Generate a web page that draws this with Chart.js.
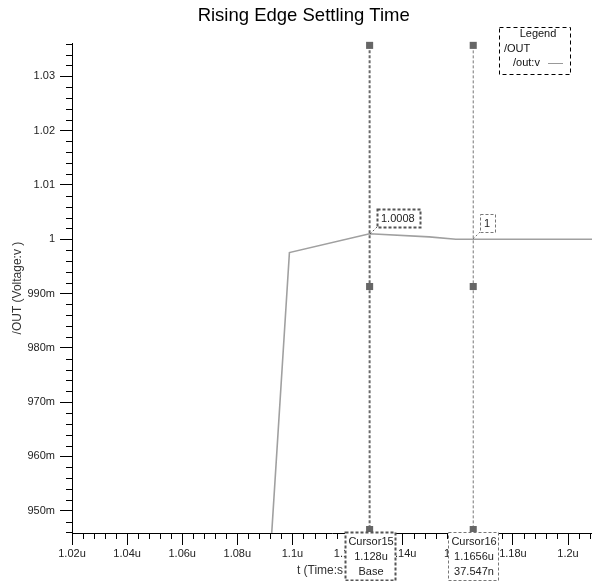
<!DOCTYPE html>
<html lang="en">
<head>
<meta charset="UTF-8">
<title>Rising Edge Settling Time</title>
<script src="https://cdn.jsdelivr.net/npm/chart.js@4.4.0/dist/chart.umd.min.js"></script>
<style>
  html, body { margin: 0; padding: 0; background: #fff; }
  #wrap { width: 592px; height: 581px; }
</style>
</head>
<body>
<div id="wrap"><canvas id="settle"></canvas></div>
<script>
// /out:v trace, time in microseconds
var timeUs = [1.09, 1.0989, 1.128, 1.1496, 1.1593, 1.1656, 1.2087];
var outV   = [0.926, 0.99755, 1.001, 1.00044, 1.0000, 1.0000, 1.0000];

// cursors
var cursorNames = ['Cursor15', 'Cursor16'];
var cursorTime  = [1.128, 1.1656];
var cursorTimeText = ['1.128u', '1.1656u'];
var cursorInfo  = ['Base', '37.547n'];
var cursorValueText = ['1.0008', '1'];
var cursorValue = [1.001, 1.0];
var markerV = [1.0357, 0.99129, 0.94654];

var xRange = [1.02, 1.2087];
var yRange = [0.9459, 1.0361];
var xMinorStep = 0.004, xMajorStep = 0.02;
var yMinorStep = 0.002, yMajorStep = 0.01;

var FONT = 'Liberation Sans';

function isMajor(v, step) {
  return Math.abs(v / step - Math.round(v / step)) < 1e-6;
}

function cursorPoints(t) {
  return markerV.map(function(v) { return {x: t, y: v}; });
}

// short ticks between the labelled ones
var minorTicks = {
  id: 'minorTicks',
  afterDraw: function(chart) {
    var ctx = chart.ctx;
    var xs = chart.scales.x, ys = chart.scales.y;
    var area = chart.chartArea;
    ctx.save();
    ctx.strokeStyle = '#000';
    ctx.lineWidth = 1;
    ctx.beginPath();
    xs.ticks.forEach(function(t) {
      if (isMajor(t.value, xMajorStep)) return;
      var px = Math.round(xs.getPixelForValue(t.value)) + 0.5;
      ctx.moveTo(px, area.bottom);
      ctx.lineTo(px, area.bottom + 6);
    });
    ys.ticks.forEach(function(t) {
      if (isMajor(t.value, yMajorStep)) return;
      var py = Math.round(ys.getPixelForValue(t.value)) + 0.5;
      ctx.moveTo(area.left, py);
      ctx.lineTo(area.left - 6, py);
    });
    ctx.stroke();
    ctx.restore();
  }
};

function dashedBox(ctx, x, y, w, h, lw, color, dash) {
  ctx.save();
  ctx.fillStyle = '#fff';
  ctx.fillRect(x, y, w, h);
  ctx.setLineDash(dash);
  ctx.lineWidth = lw;
  ctx.strokeStyle = color;
  ctx.strokeRect(x + 0.5, y + 0.5, w, h);
  ctx.restore();
}

// cursor readouts, value flags and the legend box
var cursorLabels = {
  id: 'cursorLabels',
  afterDraw: function(chart) {
    var ctx = chart.ctx;
    var xs = chart.scales.x, ys = chart.scales.y;
    var area = chart.chartArea;
    ctx.save();
    ctx.font = '11px "' + FONT + '"';
    ctx.textBaseline = 'middle';

    cursorTime.forEach(function(t, i) {
      var px = Math.round(xs.getPixelForValue(t));
      var py = Math.round(ys.getPixelForValue(cursorValue[i]));
      var lw = i === 0 ? 2 : 1;
      var col = i === 0 ? '#555' : '#777';

      // value flag
      var tw = ctx.measureText(cursorValueText[i]).width;
      var bw = Math.round(tw + 9), bh = 18;
      var bx = px + 7, by = py - 7 - bh;
      ctx.save();
      ctx.setLineDash([2, 2]);
      ctx.strokeStyle = col;
      ctx.lineWidth = 1;
      ctx.beginPath();
      ctx.moveTo(px, py);
      ctx.lineTo(bx, py - 7);
      ctx.stroke();
      ctx.restore();
      dashedBox(ctx, bx, by, bw, bh, lw, col, [3, 2]);
      ctx.fillStyle = '#222';
      ctx.textAlign = 'left';
      ctx.fillText(cursorValueText[i], bx + 4, by + bh / 2 + 1);

      // readout under the axis
      var cw = 50, ch = 48;
      var cx = px - cw / 2, cy = area.bottom - 1;
      dashedBox(ctx, cx, cy, cw, ch, lw, col, [3, 2]);
      ctx.fillStyle = '#222';
      ctx.textAlign = 'center';
      ctx.fillText(cursorNames[i], px + 1, cy + 10);
      ctx.fillText(cursorTimeText[i], px + 1, cy + 25);
      ctx.fillText(cursorInfo[i], px + 1, cy + 40);
    });

    // legend
    var lx = chart.width - 93, ly = 27;
    dashedBox(ctx, lx, ly, 71, 47, 1, '#000', [4, 3]);
    ctx.fillStyle = '#111';
    ctx.textAlign = 'center';
    ctx.fillText('Legend', lx + 39, ly + 7);
    ctx.textAlign = 'left';
    ctx.fillText('/OUT', lx + 5, ly + 22);
    ctx.fillText('/out:v', lx + 14, ly + 36);
    ctx.strokeStyle = '#999';
    ctx.lineWidth = 1;
    ctx.beginPath();
    ctx.moveTo(lx + 49, ly + 36.5);
    ctx.lineTo(lx + 64, ly + 36.5);
    ctx.stroke();
    ctx.restore();
  }
};

var trace = timeUs.map(function(t, i) { return {x: t, y: outV[i]}; });

new Chart(document.getElementById('settle'), {
  type: 'line',
  data: {
    datasets: [
      {
        label: cursorNames[0],
        data: cursorPoints(cursorTime[0]),
        borderColor: '#6a6a6a',
        borderWidth: 2,
        borderDash: [3, 2],
        pointStyle: 'rect',
        pointRadius: 5,
        pointBackgroundColor: '#666',
        pointBorderWidth: 0,
        clip: false
      },
      {
        label: cursorNames[1],
        data: cursorPoints(cursorTime[1]),
        borderColor: '#777',
        borderWidth: 1,
        borderDash: [3, 2],
        pointStyle: 'rect',
        pointRadius: 5,
        pointBackgroundColor: '#666',
        pointBorderWidth: 0,
        clip: false
      },
      {
        label: '/out:v',
        data: trace,
        borderColor: '#a0a0a0',
        borderWidth: 1.6,
        pointRadius: 0,
        tension: 0
      }
    ]
  },
  options: {
    responsive: true,
    maintainAspectRatio: false,
    animation: false,
    layout: { padding: 0, autoPadding: false },
    plugins: {
      legend: { display: false },
      tooltip: { enabled: false },
      title: {
        display: true,
        // leading spaces nudge it right, like the original
        text: '   Rising Edge Settling Time',
        color: '#000',
        font: { family: FONT, size: 18.5, weight: 'normal' },
        padding: { top: 5, bottom: 16 }
      }
    },
    scales: {
      x: {
        type: 'linear',
        min: xRange[0],
        max: xRange[1],
        afterFit: function(s) {
          s.height = 48;
          s.paddingLeft = 0;
          s.paddingRight = 0;
        },
        border: { display: true, color: '#000', width: 1 },
        grid: {
          drawOnChartArea: false,
          drawTicks: true,
          tickLength: 12,
          tickColor: function(c) {
            return c.tick && isMajor(c.tick.value, xMajorStep) ? '#000' : 'rgba(0,0,0,0)';
          }
        },
        ticks: {
          stepSize: xMinorStep,
          includeBounds: false,
          autoSkip: false,
          maxRotation: 0,
          minRotation: 0,
          padding: 2,
          color: '#222',
          font: { family: FONT, size: 11 },
          callback: function(v) {
            return isMajor(v, xMajorStep) ? (+v.toFixed(2)) + 'u' : '';
          }
        },
        title: {
          display: true,
          text: 't (Time:s )     ',
          color: '#333',
          font: { family: FONT, size: 12 },
          padding: { top: 0, bottom: 3 }
        }
      },
      y: {
        type: 'linear',
        min: yRange[0],
        max: yRange[1],
        afterFit: function(s) {
          s.width = 72;
          s.paddingTop = 0;
          s.paddingBottom = 0;
        },
        border: { display: true, color: '#000', width: 1 },
        grid: {
          drawOnChartArea: false,
          drawTicks: true,
          tickLength: 12,
          tickColor: function(c) {
            return c.tick && isMajor(c.tick.value, yMajorStep) ? '#000' : 'rgba(0,0,0,0)';
          }
        },
        ticks: {
          stepSize: yMinorStep,
          includeBounds: false,
          autoSkip: false,
          padding: 5,
          color: '#222',
          font: { family: FONT, size: 11 },
          callback: function(v) {
            if (!isMajor(v, yMajorStep)) return '';
            return v >= 0.9995 ? String(+v.toFixed(2)) : Math.round(v * 1000) + 'm';
          }
        },
        title: {
          display: true,
          text: '/OUT (Voltage:v )',
          color: '#333',
          font: { family: FONT, size: 12 },
          padding: { top: 10, bottom: 0 }
        }
      }
    }
  },
  plugins: [minorTicks, cursorLabels]
});
</script>
</body>
</html>
